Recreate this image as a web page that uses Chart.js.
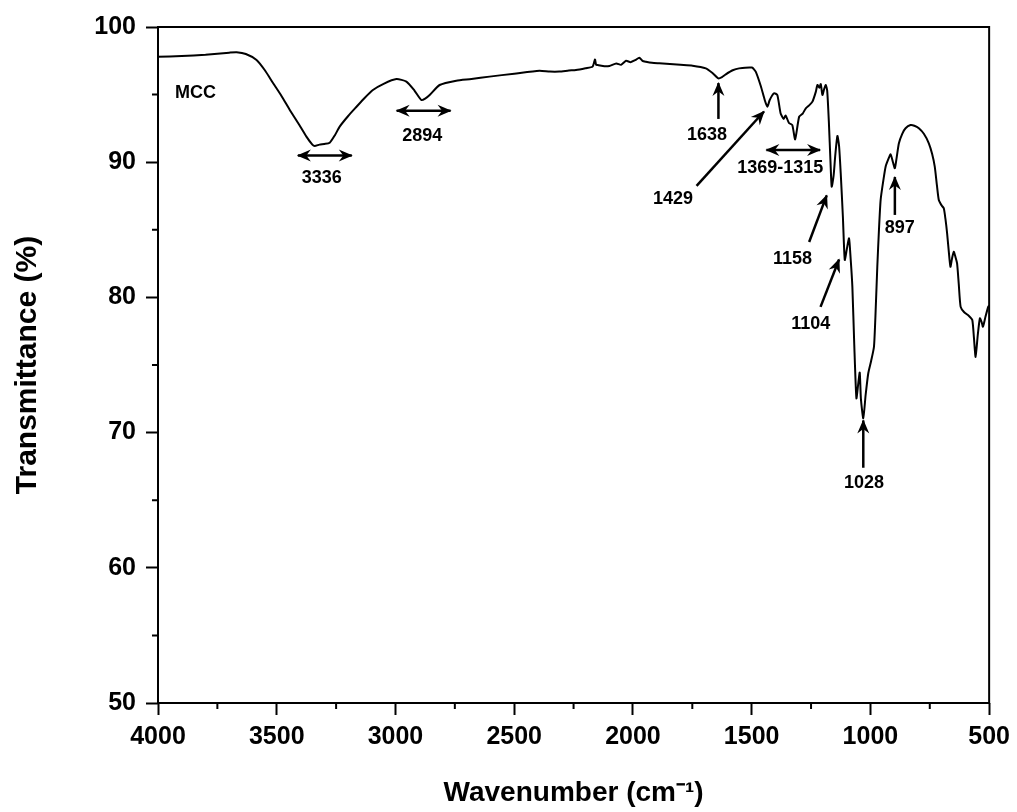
<!DOCTYPE html>
<html>
<head>
<meta charset="utf-8">
<title>FTIR spectrum of MCC</title>
<script src="https://cdn.jsdelivr.net/npm/chart.js@4.4.1/dist/chart.umd.min.js"></script>
<style>
  html, body { margin: 0; padding: 0; background: #fff; }
  #wrap { width: 1017px; height: 812px; position: relative; }
</style>
</head>
<body>
<div id="wrap"><canvas id="ftirChart"></canvas></div>
<script>
// Spectrum (wavenumber in cm-1, transmittance in %)
const wavenumbers = [
  4000, 3900, 3800, 3700, 3669, 3630, 3585, 3550, 3515, 3480, 3445, 3410, 3375, 3350, 3340, 3320,
  3300, 3277, 3255, 3235, 3200, 3164, 3130, 3095, 3050, 2996, 2954, 2920, 2891, 2875, 2856, 2814,
  2744, 2680, 2604, 2500, 2394, 2350, 2310, 2270, 2240, 2200, 2170, 2160, 2155, 2148, 2120, 2099,
  2070, 2050, 2029, 2010, 1990, 1973, 1960, 1945, 1920, 1889, 1800, 1749, 1693, 1665, 1640, 1625,
  1609, 1580, 1553, 1499, 1483, 1461, 1445, 1434, 1424, 1406, 1392, 1378, 1365, 1357, 1343, 1329,
  1317, 1300, 1285, 1272, 1258, 1244, 1230, 1223, 1215, 1209, 1202, 1195, 1188, 1182, 1175, 1168,
  1163, 1155, 1148, 1139, 1132, 1125, 1116, 1108, 1100, 1090, 1083, 1076, 1068, 1059, 1052, 1045,
  1040, 1030, 1020, 1009, 997, 985, 978, 971, 964, 957, 946, 936, 925, 915, 905, 897,
  889, 880, 866, 852, 831, 815, 796, 775, 754, 740, 729, 720, 712, 700, 691, 684,
  677, 670, 663, 656, 649, 642, 635, 628, 620, 605, 585, 571, 564, 557, 548, 539,
  532, 526, 515, 504, 500
];
const transmittance = [
  97.8, 97.85, 97.95, 98.1, 98.13, 98.0, 97.56, 96.8, 95.84, 94.9, 93.86, 92.9, 91.89, 91.3, 91.2, 91.3,
  91.35, 91.44, 92.0, 92.63, 93.4, 94.1, 94.75, 95.34, 95.8, 96.15, 95.96, 95.3, 94.6, 94.7, 94.97, 95.71,
  96.03, 96.15, 96.33, 96.55, 96.77, 96.7, 96.7, 96.78, 96.82, 96.95, 97.07, 97.6, 97.2, 97.19, 97.1, 97.12,
  97.3, 97.2, 97.5, 97.4, 97.55, 97.73, 97.5, 97.43, 97.35, 97.31, 97.2, 97.14, 96.94, 96.6, 96.2, 96.3,
  96.5, 96.8, 96.94, 97.0, 96.7, 95.6, 94.6, 94.1, 94.6, 95.1, 94.97, 93.6, 93.2, 93.45, 92.9, 92.75,
  91.69, 93.37, 93.6, 93.99, 94.2, 94.48, 95.2, 95.71, 95.5, 95.78, 94.97, 95.4, 95.71, 95.3, 93.0, 90.0,
  88.19, 89.0, 90.5, 91.94, 91.2, 89.18, 86.0, 82.77, 83.5, 84.37, 82.8, 80.8, 76.5, 72.54, 73.5, 74.44,
  72.5, 71.06, 72.8, 74.39, 75.3, 76.35, 79.0, 82.27, 85.0, 87.2, 88.6, 89.67, 90.2, 90.58, 90.0, 89.55,
  90.4, 91.4, 92.1, 92.51, 92.75, 92.7, 92.51, 92.1, 91.4, 90.6, 89.67, 88.3, 87.2, 86.8, 86.59, 85.8,
  84.74, 83.4, 82.27, 82.9, 83.38, 83.0, 82.52, 81.0, 79.3, 78.9, 78.63, 78.33, 77.0, 75.6, 77.2, 78.45,
  78.2, 77.83, 78.6, 79.3, 79.4
];

// Band assignments: text labels and arrows, in data units
const bandLabels = [
  { text: 'MCC', x: 3928, y: 95.1, align: 'left' },
  { text: '3336', x: 3310, y: 88.8 },
  { text: '2894', x: 2887, y: 91.9 },
  { text: '1638', x: 1688, y: 92.0 },
  { text: '1429', x: 1831, y: 87.3 },
  { text: '1369-1315', x: 1380, y: 89.55 },
  { text: '1158', x: 1328, y: 82.85 },
  { text: '1104', x: 1251, y: 78.0 },
  { text: '1028', x: 1027, y: 66.3 },
  { text: '897', x: 876, y: 85.1 }
];
const bandArrows = [
  { from: [3411, 90.5], to: [3184, 90.5], both: true },
  { from: [2995, 93.8], to: [2768, 93.8], both: true },
  { from: [1640, 93.2], to: [1640, 95.85] },
  { from: [1732, 88.25], to: [1448, 93.75] },
  { from: [1438, 90.9], to: [1212, 90.9], both: true },
  { from: [1258, 84.1], to: [1184, 87.55] },
  { from: [1210, 79.3], to: [1132, 82.8] },
  { from: [1030, 67.4], to: [1030, 70.9] },
  { from: [897, 86.1], to: [897, 88.9] }
];

const FONT = "'Liberation Sans', Arial, Helvetica, sans-serif";
Chart.defaults.font.family = FONT;
Chart.defaults.color = '#000';

function drawHead(ctx, x1, y1, x2, y2) {
  // barbed arrowhead pointing at (x2, y2)
  const ang = Math.atan2(y2 - y1, x2 - x1);
  const len = 13, half = 6;
  ctx.save();
  ctx.translate(x2, y2);
  ctx.rotate(ang);
  ctx.beginPath();
  ctx.moveTo(1, 0);
  ctx.lineTo(-len, -half);
  ctx.lineTo(-len * 0.65, 0);
  ctx.lineTo(-len, half);
  ctx.closePath();
  ctx.fill();
  ctx.restore();
}

const annotatePlugin = {
  id: 'annotate',
  afterDatasetsDraw(chart) {
    const { ctx, chartArea, scales: { x, y } } = chart;
    ctx.save();
    ctx.strokeStyle = '#000';
    ctx.fillStyle = '#000';

    // minor ticks halfway between the major ones
    ctx.lineWidth = 2;
    ctx.beginPath();
    const xt = x.ticks.map(t => t.value);
    for (let i = 0; i < xt.length - 1; i++) {
      const px = x.getPixelForValue((xt[i] + xt[i + 1]) / 2);
      ctx.moveTo(px, chartArea.bottom);
      ctx.lineTo(px, chartArea.bottom + 6);
    }
    const yt = y.ticks.map(t => t.value);
    for (let i = 0; i < yt.length - 1; i++) {
      const py = y.getPixelForValue((yt[i] + yt[i + 1]) / 2);
      ctx.moveTo(chartArea.left, py);
      ctx.lineTo(chartArea.left - 6, py);
    }
    ctx.stroke();

    // frame
    ctx.lineWidth = 2;
    ctx.strokeRect(chartArea.left, chartArea.top, chartArea.right - chartArea.left, chartArea.bottom - chartArea.top);

    // arrows
    ctx.lineWidth = 2.5;
    bandArrows.forEach(a => {
      const x1 = x.getPixelForValue(a.from[0]), y1 = y.getPixelForValue(a.from[1]);
      const x2 = x.getPixelForValue(a.to[0]), y2 = y.getPixelForValue(a.to[1]);
      ctx.beginPath();
      ctx.moveTo(x1, y1);
      ctx.lineTo(x2, y2);
      ctx.stroke();
      drawHead(ctx, x1, y1, x2, y2);
      if (a.both) drawHead(ctx, x2, y2, x1, y1);
    });

    // labels
    ctx.font = 'bold 18px ' + FONT;
    ctx.textBaseline = 'middle';
    bandLabels.forEach(l => {
      ctx.textAlign = l.align || 'center';
      ctx.fillText(l.text, x.getPixelForValue(l.x), y.getPixelForValue(l.y));
    });
    ctx.restore();
  }
};

const ctx = document.getElementById('ftirChart').getContext('2d');
const ftirChart = new Chart(ctx, {
  type: 'scatter',
  data: {
    datasets: [{
      label: 'MCC',
      data: wavenumbers.map((w, i) => ({ x: w, y: transmittance[i] })),
      showLine: true,
      borderColor: '#000',
      borderWidth: 2,
      pointRadius: 0,
      tension: 0.2
    }]
  },
  options: {
    responsive: true,
    maintainAspectRatio: false,
    animation: false,
    layout: { padding: { top: 27, right: 27, left: 0, bottom: 0 } },
    plugins: { legend: { display: false }, tooltip: { enabled: false } },
    scales: {
      x: {
        type: 'linear',
        reverse: true,
        min: 500,
        max: 4000,
        afterFit(scale) { scale.height = 109; },
        ticks: {
          stepSize: 500, autoSkip: false, maxRotation: 0, padding: 7,
          font: { size: 25, weight: 'bold' },
          callback: v => String(v)
        },
        grid: { drawOnChartArea: false, tickLength: 12, tickWidth: 2, tickColor: '#000' },
        border: { display: false },
        title: {
          display: true,
          text: 'Wavenumber (cm\u207B\u00B9)',
          font: { size: 28, weight: 'bold' },
          padding: { top: 0, bottom: 2 }
        }
      },
      y: {
        min: 50,
        max: 100,
        afterFit(scale) { scale.width = 158; },
        ticks: {
          stepSize: 10, padding: 10,
          font: { size: 25, weight: 'bold' },
          callback: v => String(v)
        },
        grid: { drawOnChartArea: false, tickLength: 12, tickWidth: 2, tickColor: '#000' },
        border: { display: false },
        title: {
          display: true,
          text: 'Transmittance (%)',
          font: { size: 30, weight: 'bold' },
          padding: { top: 10, bottom: 0 }
        }
      }
    }
  },
  plugins: [annotatePlugin]
});
</script>
</body>
</html>
